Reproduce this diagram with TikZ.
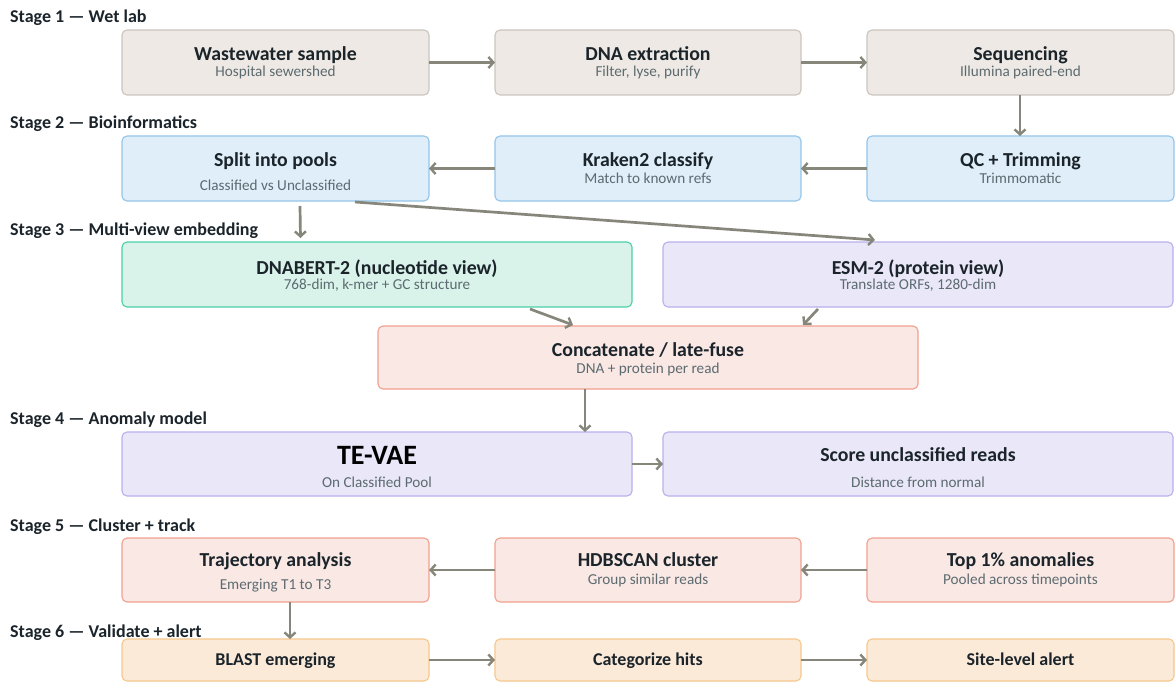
\documentclass[tikz,border=0pt]{standalone}
\usepackage{fontspec}
\setmainfont{Carlito}
\usetikzlibrary{arrows.meta,calc}
\definecolor{beigeF}{HTML}{EEE9E4}
\definecolor{beigeL}{HTML}{CCC5BE}
\definecolor{blueF}{HTML}{E0EEFA}
\definecolor{blueL}{HTML}{93C5EA}
\definecolor{greenF}{HTML}{D9F3EA}
\definecolor{greenL}{HTML}{4ACFA9}
\definecolor{lavF}{HTML}{E9E7F8}
\definecolor{lavL}{HTML}{B7B1EC}
\definecolor{salF}{HTML}{FAE8E5}
\definecolor{salL}{HTML}{F2A090}
\definecolor{peachF}{HTML}{FCEAD9}
\definecolor{peachL}{HTML}{F7C78C}
\definecolor{arrC}{HTML}{87867A}
\definecolor{ttlC}{HTML}{1A242A}
\definecolor{subC}{HTML}{5C6B70}
\newcommand\mkbox[6]{\node[boxbase,#6, minimum width={#4-#2}, minimum height={#5-#3}] (#1) at ({(#2+#4)/2},{(#3+#5)/2}) {};}
\tikzset{
  boxbase/.style={draw, rounded corners=5pt, line width=1.1pt, inner sep=0pt, outer sep=0pt},
  beige/.style={fill=beigeF, draw=beigeL},
  blue/.style={fill=blueF, draw=blueL},
  green/.style={fill=greenF, draw=greenL},
  lav/.style={fill=lavF, draw=lavL},
  sal/.style={fill=salF, draw=salL},
  peach/.style={fill=peachF, draw=peachL},
  ttl/.style={anchor=mid, inner sep=0pt, text=ttlC, font=\fontsize{19.8}{22}\selectfont\bfseries},
  bigttl/.style={anchor=mid, inner sep=0pt, text=black, font=\fontsize{28}{30}\selectfont\bfseries},
  smallttl/.style={anchor=mid, inner sep=0pt, text=ttlC, font=\fontsize{18}{20}\selectfont\bfseries},
  subt/.style={anchor=mid, inner sep=0pt, text=subC, font=\fontsize{15.2}{17}\selectfont},
  stage/.style={anchor=base west, inner sep=0pt, text=ttlC, font=\fontsize{18}{20}\selectfont\bfseries},
  arr/.style={draw=arrC, line width=2.7pt, -{Straight Barb[length=5pt,width=11pt,line width=2.4pt]}}
}
\begin{document}
\begin{tikzpicture}[x=1pt,y=-1pt]
\useasboundingbox[fill=white] (0,0) rectangle (1175,682);
% stage labels
\node[stage] (s1) at (10,23) {Stage 1 — Wet lab};
\node[stage] (s2) at (10,129) {Stage 2 — Bioinformatics};
\node[stage] (s3) at (10,235) {Stage 3 — Multi-view embedding};
\node[stage] (s4) at (10,424) {Stage 4 — Anomaly model};
\node[stage] (s5) at (10,531) {Stage 5 — Cluster + track};
\node[stage] (s6) at (10,637) {Stage 6 — Validate + alert};
% row 1
\mkbox{ws}{122}{30}{429}{95}{beige}
\mkbox{dna}{495}{30}{801}{95}{beige}
\mkbox{seq}{867}{30}{1174}{95}{beige}
\node[ttl] (ws-t) at ($(ws.center)+(0,-4)$) {Wastewater sample};
\node[subt] (ws-s) at ($(ws.center)+(0,12)$) {Hospital sewershed};
\node[ttl] (dna-t) at ($(dna.center)+(0,-4)$) {DNA extraction};
\node[subt] (dna-s) at ($(dna.center)+(0,12)$) {Filter, lyse, purify};
\node[ttl] (seq-t) at ($(seq.center)+(0,-4)$) {Sequencing};
\node[subt] (seq-s) at ($(seq.center)+(0,12)$) {Illumina paired-end};
% row 2
\mkbox{split}{122}{136}{429}{201}{blue}
\mkbox{kraken}{495}{136}{801}{201}{blue}
\mkbox{qc}{867}{136}{1174}{201}{blue}
\node[ttl] (split-t) at ($(split.center)+(0,-4)$) {Split into pools};
\node[subt] (split-s) at ($(split.center)+(0,19.5)$) {Classified vs Unclassified};
\node[ttl] (kraken-t) at ($(kraken.center)+(0,-4)$) {Kraken2 classify};
\node[subt] (kraken-s) at ($(kraken.center)+(0,12.5)$) {Match to known refs};
\node[ttl] (qc-t) at ($(qc.center)+(0,-4)$) {QC + Trimming};
\node[subt] (qc-s) at ($(qc.center)+(0,12.5)$) {Trimmomatic};
% row 3
\mkbox{bert}{122}{242}{632}{307}{green}
\mkbox{esm}{663}{242}{1173}{307}{lav}
\node[ttl] (bert-t) at ($(bert.center)+(0,-2)$) {DNABERT-2 (nucleotide view)};
\node[subt] (bert-s) at ($(bert.center)+(0,12.5)$) {768-dim, k-mer + GC structure};
\node[ttl] (esm-t) at ($(esm.center)+(0,-2)$) {ESM-2 (protein view)};
\node[subt] (esm-s) at ($(esm.center)+(0,12.5)$) {Translate ORFs, 1280-dim};
\mkbox{cat}{378}{326}{918}{389}{sal}
\node[ttl] (cat-t) at ($(cat.center)+(0,-3)$) {Concatenate / late-fuse};
\node[subt] (cat-s) at ($(cat.center)+(0,13.5)$) {DNA + protein per read};
% row 4
\mkbox{vae}{122}{432}{632}{496}{lav}
\mkbox{score}{663}{432}{1173}{496}{lav}
\node[bigttl] (vae-t) at ($(vae.center)+(0,-1.5)$) {TE-VAE};
\node[subt] (vae-s) at ($(vae.center)+(0,21.5)$) {On Classified Pool};
\node[ttl] (score-t) at ($(score.center)+(0,-5)$) {Score unclassified reads};
\node[subt] (score-s) at ($(score.center)+(0,21.5)$) {Distance from normal};
% row 5
\mkbox{traj}{122}{538}{429}{602}{sal}
\mkbox{hdb}{495}{538}{801}{602}{sal}
\mkbox{top}{867}{538}{1174}{602}{sal}
\node[ttl] (traj-t) at ($(traj.center)+(0,-5.5)$) {Trajectory analysis};
\node[subt] (traj-s) at ($(traj.center)+(0,17.5)$) {Emerging T1 to T3};
\node[ttl] (hdb-t) at ($(hdb.center)+(0,-5.5)$) {HDBSCAN cluster};
\node[subt] (hdb-s) at ($(hdb.center)+(0,12.5)$) {Group similar reads};
\node[ttl] (top-t) at ($(top.center)+(0,-5.5)$) {Top 1\% anomalies};
\node[subt] (top-s) at ($(top.center)+(0,12.5)$) {Pooled across timepoints};
% row 6
\mkbox{blast}{122}{639}{429}{681}{peach}
\mkbox{categ}{495}{639}{801}{681}{peach}
\mkbox{site}{867}{639}{1174}{681}{peach}
\node[smallttl] (blast-t) at ($(blast.center)+(0,3.5)$) {BLAST emerging};
\node[smallttl] (categ-t) at ($(categ.center)+(0,3.5)$) {Categorize hits};
\node[smallttl] (site-t) at ($(site.center)+(0,3.5)$) {Site-level alert};
% arrows
\draw[arr] (ws.east) -- (dna.west);
\draw[arr] (dna.east) -- (seq.west);
\draw[arr] ([xshift=-0.5pt]seq.south) -- ([xshift=-0.5pt]qc.north);
\draw[arr] (qc.west) -- (kraken.east);
\draw[arr] (kraken.west) -- (split.east);
\draw[arr] ([xshift=24.5pt,yshift=-5pt]split.south) -- ([xshift=-76.5pt,yshift=4pt]bert.north);
\draw[arr] ([xshift=-74pt,yshift=-1pt]split.south east) -- ([xshift=-43pt,yshift=2pt]esm.north);
\draw[arr] ([xshift=408pt,yshift=-2pt]bert.south west) -- ([xshift=-75pt,yshift=1pt]cat.north);
\draw[arr] ([xshift=155pt,yshift=-2pt]esm.south west) -- ([xshift=155pt,yshift=1pt]cat.north);
\draw[arr] ([xshift=-63pt]cat.south) -- ([xshift=208pt]vae.north);
\draw[arr] (vae.east) -- (score.west);
\draw[arr] (top.west) -- (hdb.east);
\draw[arr] (hdb.west) -- (traj.east);
\draw[arr] ([xshift=14.5pt]traj.south) -- ([xshift=14.5pt]blast.north);
\draw[arr] (blast.east) -- (categ.west);
\draw[arr] (categ.east) -- (site.west);
\end{tikzpicture}
\end{document}
